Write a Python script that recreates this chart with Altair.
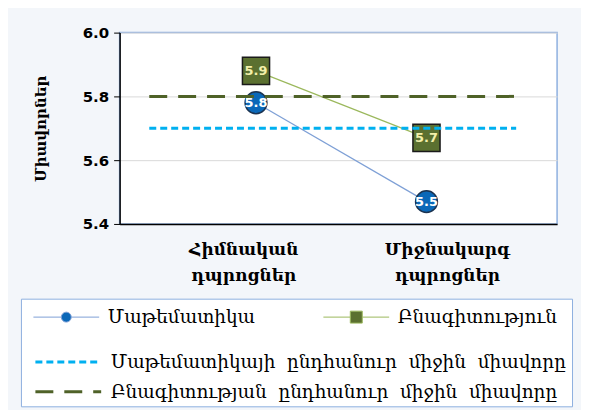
import json
import altair as alt
import pandas as pd

# ---- data ----
category_lines = [["Հիմնական", "դպրոցներ"], ["Միջնակարգ", "դպրոցներ"]]
series_names = ["Մաթեմատիկա", "Բնագիտություն"]
math_scores = [5.78, 5.47]
science_scores = [5.88, 5.67]
mean_names = ["Մաթեմատիկայի ընդհանուր միջին միավորը",
              "Բնագիտության ընդհանուր միջին միավորը"]
mean_scores = [5.70, 5.80]
y_ticks = [5.4, 5.6, 5.8, 6.0]
y_title = "Միավորներ"

SERIF = "DejaVu Serif"
SANS = "DejaVu Sans"
NBSP = "\u00a0"

positions = list(range(1, len(category_lines) + 1))
rows = []
for i, p in enumerate(positions):
    rows.append({"pos": p, "series": series_names[0], "score": math_scores[i]})
    rows.append({"pos": p, "series": series_names[1], "score": science_scores[i]})
df = pd.DataFrame(rows)
mean_df = pd.DataFrame({"mean": mean_names, "score": mean_scores})

# category labels sit slightly apart from the point positions (as in the source)
label_shift = [-0.075, 0.12]
label_values = [p + s for p, s in zip(positions, label_shift)]
label_expr = (f"datum.value < {positions[0] + 0.5} ? "
              f"{json.dumps(category_lines[0], ensure_ascii=False)} : "
              f"{json.dumps(category_lines[1], ensure_ascii=False)}")

x_scale = alt.Scale(domain=[0.2, 2.766], nice=False, zero=False)
y_scale = alt.Scale(domain=[5.4, 6.0], nice=False, zero=False)

x_enc = alt.X("pos:Q", scale=x_scale, axis=alt.Axis(
    values=label_values, labelExpr=label_expr, title=None, grid=False,
    ticks=False, tickSize=0, domainColor="black", domainWidth=1.5,
    labelFont=SERIF, labelFontSize=17, labelFontWeight="bold",
    labelLineHeight=26, labelBaseline="alphabetic", labelPadding=31,
    labelColor="black", labelAlign="center", labelLimit=300))
y_enc = alt.Y("score:Q", scale=y_scale, axis=alt.Axis(
    values=y_ticks, format=".1f", title=y_title, titleFont=SERIF,
    titleFontSize=15, titleFontWeight="bold", titleColor="black",
    titlePadding=34, labelFont=SANS, labelFontSize=15, labelFontWeight="bold",
    labelColor="black", labelPadding=5, tickSize=6, tickColor="black",
    domainColor="black", domainWidth=1.5, gridColor="#d9d9d9"))

# legend symbol paths: symbol box is [-1,1] (20px); the line reaches to the right
circle_path = ("M-0.2,0H2.6M3.6,0H6.4M3.6,0A0.5,0.5,0,1,1,2.6,0"
               "A0.5,0.5,0,1,1,3.6,0Z")
square_path = "M-0.2,0H2.5M3.7,0H6.4M2.5,-0.6H3.7V0.6H2.5Z"
stroke_path = "M-0.2,0H6.4"

line_colors = ["#7ea0d6", "#9bb85c"]
marker_fills = ["#0b68b8", "#5b7030"]
LEG_FONT = 18.5

legend_a = alt.Legend(
    orient="none", legendX=-95, legendY=275, direction="horizontal",
    title=None, symbolSize=400, symbolStrokeWidth=1, symbolOpacity=1,
    labelFont=SERIF, labelFontSize=LEG_FONT, labelColor="black", labelOffset=62,
    labelLimit=600, columnPadding=60, padding=0, zindex=2)

lines = alt.Chart(df).mark_line(strokeWidth=1.2).encode(
    x=x_enc, y=y_enc,
    color=alt.Color("series:N", scale=alt.Scale(domain=series_names, range=line_colors),
                    legend=legend_a))

# invisible layer that only feeds the legend symbols (line + marker)
legend_feed = alt.Chart(df).mark_point(filled=False, opacity=0, size=1).encode(
    x="pos:Q", y="score:Q",
    color=alt.Color("series:N", scale=alt.Scale(domain=series_names, range=line_colors),
                    legend=legend_a),
    shape=alt.Shape("series:N", scale=alt.Scale(domain=series_names,
                                                range=[circle_path, square_path]),
                    legend=legend_a),
    fill=alt.Fill("series:N", scale=alt.Scale(domain=series_names, range=marker_fills),
                  legend=legend_a))

circles = alt.Chart(df).transform_filter(
    alt.datum.series == series_names[0]
).mark_point(shape="circle", filled=True, size=480, fill=marker_fills[0],
             stroke="#1c3350", strokeWidth=1.5, opacity=1).encode(x="pos:Q", y="score:Q")

squares = alt.Chart(df).transform_filter(
    alt.datum.series == series_names[1]
).mark_point(shape="square", filled=True, size=740, fill=marker_fills[1],
             stroke="#1a1a1a", strokeWidth=1.5, opacity=1).encode(x="pos:Q", y="score:Q")

# legend for the mean lines; its blank title heightens the box so that
# the box frames both legends
legend_b = alt.Legend(
    orient="none", legendX=-99, legendY=267, direction="vertical",
    title=NBSP, titleFont=SERIF, titleFontSize=10, titlePadding=37,
    symbolType=stroke_path, symbolSize=400, symbolStrokeWidth=3,
    labelFont=SERIF, labelFontSize=LEG_FONT, labelColor="black", labelOffset=62,
    labelLimit=600, rowPadding=9, padding=5,
    labelExpr=f"join(split(datum.label, ' '), '{NBSP}{NBSP}')",
    fillColor="white", strokeColor="#8fb0e0", zindex=1)

means = alt.Chart(mean_df).mark_rule(strokeWidth=3).encode(
    x=alt.datum(0.374), x2=alt.datum(2.526), y="score:Q",
    stroke=alt.Stroke("mean:N", scale=alt.Scale(domain=mean_names,
                                                range=["#00b0f0", "#4f6228"]),
                      legend=legend_b),
    strokeDash=alt.StrokeDash("mean:N", scale=alt.Scale(domain=mean_names,
                                                        range=[[7, 4], [18, 11]]),
                              legend=legend_b))

math_text = alt.Chart(df).transform_filter(
    alt.datum.series == series_names[0]
).mark_text(font=SANS, fontSize=13, fontWeight="bold", color="white").encode(
    x="pos:Q", y="score:Q", text=alt.Text("score:Q", format=".1f"))

sci_text = alt.Chart(df).transform_filter(
    alt.datum.series == series_names[1]
).mark_text(font=SANS, fontSize=13, fontWeight="bold", color="#f3efaa").encode(
    x="pos:Q", y="score:Q", text=alt.Text("score:Q", format=".1f"))

chart = alt.layer(lines, legend_feed, circles, squares, means, math_text, sci_text).properties(
    width=439, height=192,
    padding={"left": 112, "top": 24, "right": 24, "bottom": 186},
    autosize=alt.AutoSizeParams(type="none"),
    background="#f3f6fa",
).configure_view(fill="white", stroke="#8fb0e0", strokeWidth=1.5)

chart.save("out.html", embed_options={"renderer": "svg", "actions": False})
